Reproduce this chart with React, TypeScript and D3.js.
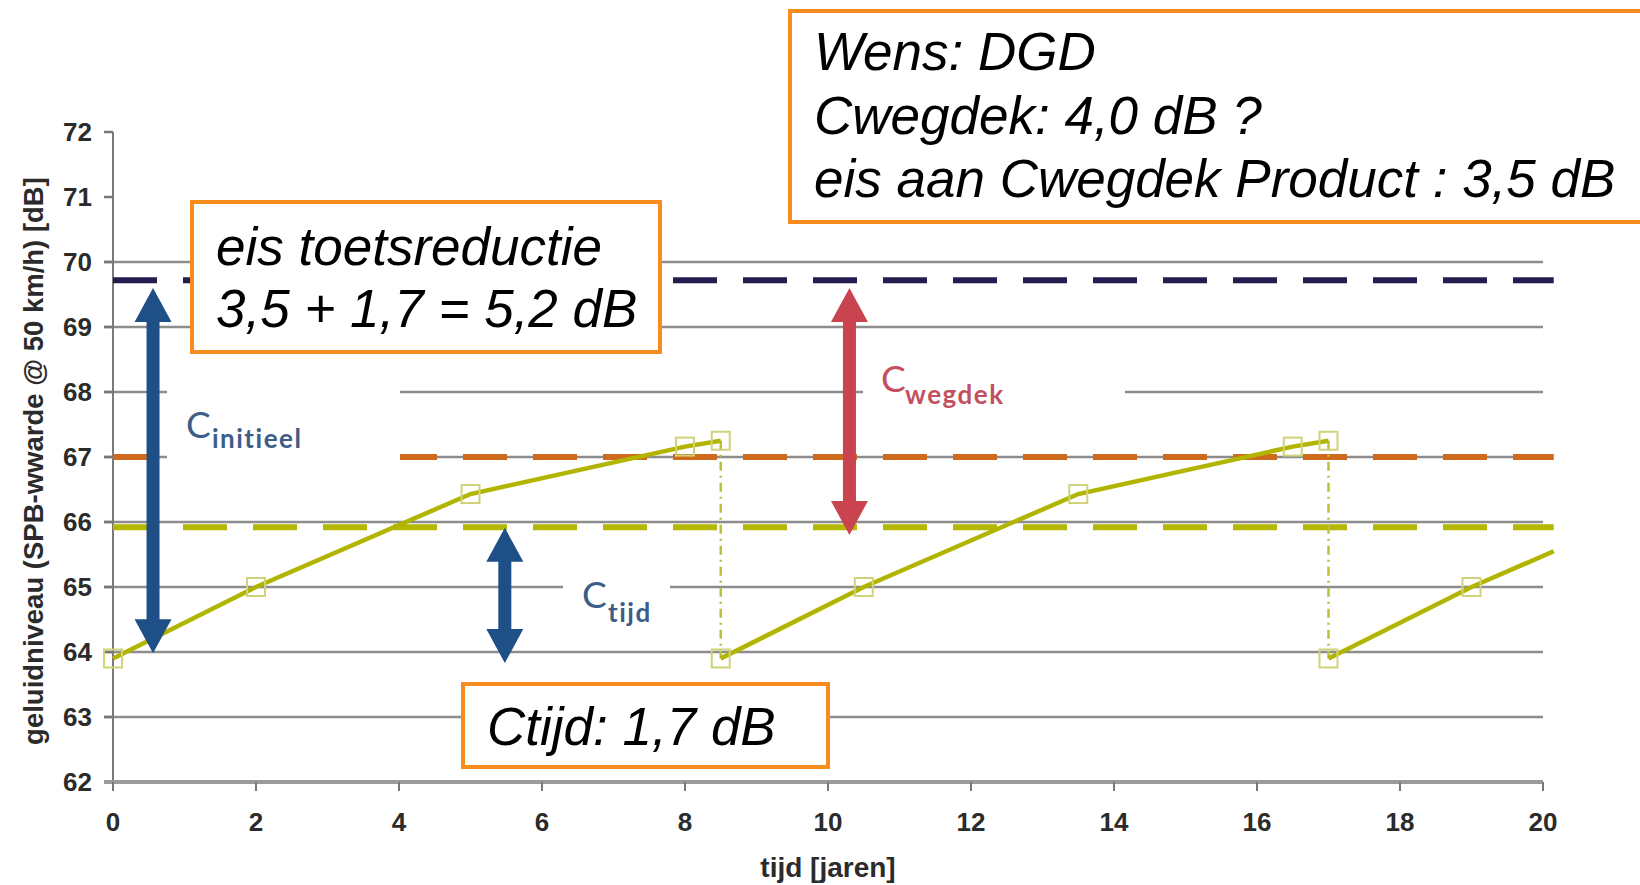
import React from "react";
import * as d3 from "d3";

// ---- data ----
const xTicks = [0, 2, 4, 6, 8, 10, 12, 14, 16, 18, 20];
const yTicks = [62, 63, 64, 65, 66, 67, 68, 69, 70, 71, 72];
const gridLevels = [63, 64, 65, 66, 67, 68, 69, 70];

const cycle1X = [0, 2, 5, 8, 8.5];
const cycle1Y = [63.9, 65.0, 66.43, 67.16, 67.25];
const cycle2X = [8.5, 10.5, 13.5, 16.5, 17];
const cycle2Y = [63.9, 65.0, 66.43, 67.16, 67.25];
const cycle3X = [17, 19, 20.15];
const cycle3Y = [63.9, 65.0, 65.55];
const cycle3Markers = 2;

const resetX = [8.5, 17];
const resetTop = [67.25, 67.25];
const resetBottom = [63.9, 63.9];

const refNames = ["toets", "eis", "initieel"];
const refLevels = [69.72, 67.0, 65.92];
const refColors = ["#231c4f", "#cf6a1c", "#b4b800"];
const refEnd = 20.15;

// arrows: x position, top tip, bottom tip (data units)
const arrowNames = ["initieel", "tijd", "wegdek"];
const arrowX = [0.56, 5.48, 10.3];
const arrowTop = [69.6, 65.91, 69.6];
const arrowBottom = [63.98, 63.83, 65.8];
const arrowColors = ["#1f4f87", "#1f4f87", "#c9444e"];

const labelSub = ["initieel", "tijd", "wegdek"];
const labelColors = ["#3d5d88", "#3d5d88", "#c2505f"];

export default function App() {
  const W = 1640, H = 885;
  const x = d3.scaleLinear().domain([0, 20]).range([113, 1543]);
  const y = d3.scaleLinear().domain([62, 72]).range([782, 132]);

  const line = d3.line<[number, number]>().x(d => x(d[0])).y(d => y(d[1]));
  const series = [
    { xs: cycle1X, ys: cycle1Y, nm: cycle1X.length },
    { xs: cycle2X, ys: cycle2Y, nm: cycle2X.length },
    { xs: cycle3X, ys: cycle3Y, nm: cycle3Markers },
  ];

  const arrowPath = (cx: number, yt: number, yb: number) => {
    const hw = 18.5, hl = 34, sw = 6.5;
    return `M${cx},${yt} L${cx + hw},${yt + hl} L${cx + sw},${yt + hl} L${cx + sw},${yb - hl} L${cx + hw},${yb - hl} L${cx},${yb} L${cx - hw},${yb - hl} L${cx - sw},${yb - hl} L${cx - sw},${yt + hl} L${cx - hw},${yt + hl} Z`;
  };

  // label anchor positions (pixel placement of annotation text)
  const labelPos = [
    { cx: 186, cy: 438, sx: 212, sy: 448 },
    { cx: 582, cy: 608, sx: 608, sy: 622 },
    { cx: 881, cy: 392, sx: 905, sy: 404 },
  ];
  const maskRects = [
    { x: 167, y: 378, w: 233, h: 92 },
    { x: 563, y: 545, w: 107, h: 92 },
    { x: 863, y: 345, w: 262, h: 92 },
  ];

  const boxFont = "'Liberation Sans', Arial, sans-serif";
  const orange = "#f78c1f";

  return (
    <svg width={W} height={H} style={{ position: "absolute", left: 0, top: 0, background: "#fff" }}
      fontFamily="'Liberation Sans', Arial, sans-serif">
      <rect x={0} y={0} width={W} height={H} fill="#fff" />
      {/* gridlines */}
      {gridLevels.map(v => (
        <line key={"g" + v} x1={104} x2={1543} y1={y(v)} y2={y(v)} stroke="#8d8d8d" strokeWidth={2.5} />
      ))}
      {/* y ticks */}
      {yTicks.map(v => (
        <line key={"yt" + v} x1={104} x2={113} y1={y(v)} y2={y(v)} stroke="#777" strokeWidth={2.5} />
      ))}
      {/* y axis */}
      <line x1={113} x2={113} y1={y(72)} y2={y(62)} stroke="#7a7a7a" strokeWidth={2} />
      {/* x axis */}
      <line x1={104} x2={1543} y1={y(62)} y2={y(62)} stroke="#9a9a9a" strokeWidth={4} />
      {xTicks.map(v => (
        <line key={"xt" + v} x1={x(v)} x2={x(v)} y1={y(62)} y2={y(62) + 9} stroke="#777" strokeWidth={2} />
      ))}
      {/* tick labels */}
      {yTicks.map(v => (
        <text key={"yl" + v} x={92} y={y(v)} dy="0.36em" textAnchor="end" fontSize={26} fontWeight="bold" fill="#2b2b2b">{v}</text>
      ))}
      {xTicks.map(v => (
        <text key={"xl" + v} x={x(v)} y={831} textAnchor="middle" fontSize={26} fontWeight="bold" fill="#2b2b2b">{v}</text>
      ))}
      {/* axis titles */}
      <text x={828} y={877} textAnchor="middle" fontSize={28} fontWeight="bold" fill="#2b2b2b">tijd [jaren]</text>
      <text transform={`translate(43,461) rotate(-90)`} textAnchor="middle" fontSize={27.5} fontWeight="bold" fill="#2b2b2b">geluidniveau (SPB-wwarde @ 50 km/h) [dB]</text>

      {/* reference dashed lines */}
      {refLevels.map((v, i) => (
        <line key={refNames[i]} x1={x(0)} x2={x(refEnd)} y1={y(v)} y2={y(v)} stroke={refColors[i]} strokeWidth={6} strokeDasharray="44,26" />
      ))}

      {/* white masks behind labels */}
      {maskRects.map((r, i) => (
        <rect key={"m" + i} x={r.x} y={r.y} width={r.w} height={r.h} fill="#fff" />
      ))}

      {/* reset connectors */}
      {resetX.map((v, i) => (
        <line key={"r" + i} x1={x(v)} x2={x(v)} y1={y(resetTop[i])} y2={y(resetBottom[i])} stroke="#bcc03a" strokeWidth={2.5} strokeDasharray="9,5,2,5" />
      ))}

      {/* series */}
      {series.map((s, i) => {
        const pts = s.xs.map((v, j) => [v, s.ys[j]] as [number, number]);
        return (
          <g key={"s" + i}>
            <path d={line(pts) || ""} fill="none" stroke="#b2b500" strokeWidth={4.5} />
            {pts.slice(0, s.nm).map((p, j) => (
              <rect key={j} x={x(p[0]) - 9} y={y(p[1]) - 9} width={18} height={18} fill="none" stroke="#d0d27a" strokeWidth={2} />
            ))}
          </g>
        );
      })}

      {/* arrows */}
      {arrowNames.map((n, i) => (
        <path key={"a" + n} d={arrowPath(x(arrowX[i]), y(arrowTop[i]), y(arrowBottom[i]))} fill={arrowColors[i]} />
      ))}

      {/* C labels */}
      {labelSub.map((s, i) => (
        <g key={"l" + s} fill={labelColors[i]} fontFamily="Lato, 'Open Sans', sans-serif">
          <text x={labelPos[i].cx} y={labelPos[i].cy} fontSize={37}>C</text>
          <text x={labelPos[i].sx} y={labelPos[i].sy} fontSize={26} fontWeight={700} letterSpacing={1.5}>{s}</text>
        </g>
      ))}

      {/* annotation boxes */}
      <g fontFamily={boxFont} fontStyle="italic" fontSize={53} fill="#000">
        <rect x={192} y={202} width={468} height={150} fill="#fff" stroke={orange} strokeWidth={4} />
        <text x={216} y={265}>eis toetsreductie</text>
        <text x={216} y={327}>3,5 + 1,7 = 5,2 dB</text>

        <rect x={463} y={684} width={365} height={83} fill="#fff" stroke={orange} strokeWidth={4} />
        <text x={487} y={745}>Ctijd: 1,7 dB</text>

        <rect x={790} y={11} width={860} height={211} fill="#fff" stroke={orange} strokeWidth={4} />
        <text x={814} y={70}>Wens: DGD</text>
        <text x={814} y={134}>Cwegdek: 4,0 dB ?</text>
        <text x={814} y={197}>eis aan Cwegdek Product : 3,5 dB</text>
      </g>
    </svg>
  );
}
